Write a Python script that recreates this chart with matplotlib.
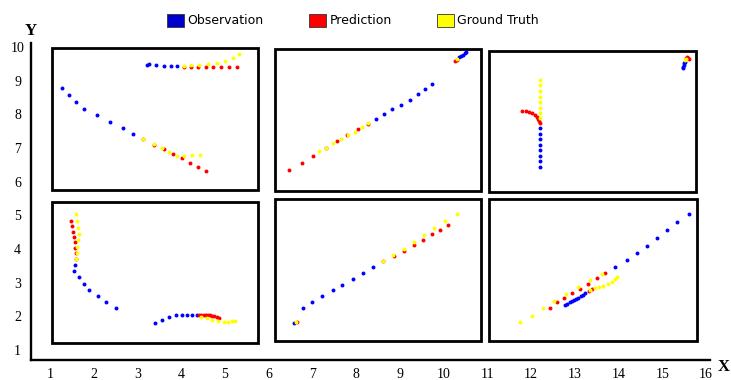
import matplotlib
matplotlib.use("Agg")
import matplotlib.pyplot as plt
from matplotlib.patches import Rectangle, Patch

# observation (blue)
obs_x = [3.21, 3.26, 3.43, 3.61, 3.77, 3.91,                      # panel 1 upper
         1.28, 1.43, 1.59, 1.78, 2.07, 2.38, 2.67, 2.90,          # panel 1 lower
         9.74, 9.57, 9.42, 9.23, 9.02, 8.83, 8.63, 8.45,          # panel 2
         10.36, 10.40, 10.44, 10.48, 10.51,
         12.20, 12.20, 12.20, 12.20, 12.20, 12.20, 12.20, 12.20,  # panel 3
         15.48, 15.48, 15.49, 15.50, 15.51,
         2.50, 2.28, 2.09, 1.90, 1.77, 1.66, 1.55, 1.58,          # panel 4
         3.39, 3.55, 3.72, 3.89, 4.01, 4.13, 4.24, 4.35,
         8.39, 8.15, 7.92, 7.68, 7.46, 7.23, 7.00, 6.78, 6.57,    # panel 5
         15.60, 15.34, 15.11, 14.87, 14.64, 14.42, 14.19, 13.91,  # panel 6
         13.24, 13.18, 13.13, 13.08, 13.03, 12.98, 12.93, 12.88, 12.83, 12.78]
obs_y = [9.47, 9.50, 9.47, 9.44, 9.43, 9.44,
         8.79, 8.58, 8.37, 8.16, 7.97, 7.77, 7.59, 7.43,
         8.90, 8.74, 8.59, 8.43, 8.29, 8.15, 8.00, 7.87,
         9.69, 9.73, 9.77, 9.81, 9.84,
         7.59, 7.43, 7.27, 7.10, 6.94, 6.77, 6.61, 6.44,
         9.37, 9.42, 9.47, 9.52, 9.56,
         2.26, 2.43, 2.60, 2.77, 2.96, 3.16, 3.34, 3.53,
         1.81, 1.89, 1.97, 2.04, 2.04, 2.04, 2.04, 2.03,
         3.45, 3.28, 3.11, 2.93, 2.77, 2.60, 2.42, 2.24, 1.80,
         5.04, 4.80, 4.56, 4.33, 4.08, 3.87, 3.66, 3.47,
         2.70, 2.64, 2.59, 2.54, 2.50, 2.47, 2.44, 2.41, 2.37, 2.33]

# prediction (red)
pred_x = [4.06, 4.23, 4.39, 4.56, 4.73, 4.90, 5.09, 5.28,
          3.13, 3.37, 3.60, 3.81, 4.01, 4.19, 4.38, 4.56,
          8.26, 8.04, 7.78, 7.56, 7.30, 7.02, 6.75, 6.47,
          10.27, 10.30,
          11.80, 11.88, 11.96, 12.03, 12.09, 12.13, 12.16, 12.19, 12.20,
          15.53, 15.56, 15.59, 15.60,
          1.59, 1.59, 1.57, 1.56, 1.55, 1.53, 1.51, 1.48,
          4.41, 4.46, 4.51, 4.56, 4.61, 4.66, 4.71, 4.76, 4.81, 4.86,
          8.62, 8.87, 9.10, 9.32, 9.53, 9.73, 9.92, 10.10, 6.65,
          13.69, 13.50, 13.31, 13.12, 12.94, 12.76, 12.60, 12.43, 13.39, 13.32]
pred_y = [9.42, 9.41, 9.41, 9.41, 9.41, 9.40, 9.40, 9.40,
          7.27, 7.10, 6.97, 6.82, 6.69, 6.55, 6.44, 6.32,
          7.72, 7.56, 7.39, 7.20, 6.99, 6.77, 6.56, 6.35,
          9.59, 9.62,
          8.10, 8.09, 8.06, 8.03, 7.98, 7.93, 7.87, 7.80, 7.73,
          9.68, 9.71, 9.68, 9.64,
          3.71, 3.88, 4.04, 4.20, 4.36, 4.51, 4.67, 4.82,
          2.05, 2.05, 2.05, 2.04, 2.04, 2.03, 2.02, 2.00, 1.98, 1.96,
          3.63, 3.79, 3.95, 4.13, 4.27, 4.43, 4.56, 4.70, 1.84,
          3.30, 3.13, 2.96, 2.82, 2.68, 2.54, 2.41, 2.26, 2.80, 2.76]

# ground truth (yellow)
gt_x = [4.06, 4.22, 4.41, 4.61, 4.81, 5.01, 5.19, 5.31,
        3.13, 3.38, 3.56, 3.73, 3.90, 4.07, 4.25, 4.44,
        8.26, 8.13, 7.97, 7.81, 7.65, 7.48, 7.30, 7.16,
        10.31,
        12.21, 12.21, 12.21, 12.21, 12.21, 12.21, 12.21, 12.21,
        15.52, 15.54,
        1.59, 1.62, 1.62, 1.64, 1.66, 1.63, 1.61, 1.59,
        4.45, 4.58, 4.71, 4.85, 4.98, 5.07, 5.16, 5.22,
        8.62, 8.85, 9.09, 9.32, 9.55, 9.78, 10.04, 10.30, 6.63,
        13.61, 13.35, 13.08, 12.80, 12.53, 12.27, 12.01, 11.75,
        13.35, 13.46, 13.56, 13.65, 13.75, 13.84, 13.91, 13.97]
gt_y = [9.45, 9.46, 9.47, 9.49, 9.52, 9.58, 9.67, 9.78,
        7.27, 7.11, 7.00, 6.87, 6.77, 6.75, 6.78, 6.78,
        7.73, 7.62, 7.48, 7.38, 7.26, 7.14, 7.00, 6.91,
        9.64,
        9.02, 8.86, 8.70, 8.53, 8.37, 8.20, 8.04, 7.88,
        9.60, 9.63,
        3.69, 3.88, 4.07, 4.26, 4.45, 4.63, 4.83, 5.04,
        1.99, 1.94, 1.90, 1.86, 1.84, 1.84, 1.85, 1.87,
        3.64, 3.81, 4.01, 4.22, 4.42, 4.62, 4.82, 5.03, 1.82,
        3.26, 3.08, 2.86, 2.65, 2.44, 2.24, 2.02, 1.82,
        2.78, 2.83, 2.86, 2.91, 2.95, 3.01, 3.10, 3.18]

x_ticks = list(range(1, 17))
y_ticks = list(range(1, 11))

# panel frames (x0, y0, x1, y1)
boxes = [(1.05, 5.75, 5.76, 9.97), (6.15, 5.72, 10.86, 9.94), (11.04, 5.69, 15.77, 9.88),
         (1.05, 1.21, 5.76, 5.40), (6.15, 1.27, 10.86, 5.49), (11.04, 1.27, 15.79, 5.49)]

fig = plt.figure(figsize=(7.31, 3.80), dpi=100)
ax = fig.add_axes([31 / 731, 20 / 380, 679 / 731, 317 / 380])
ax.set_xlim(0.565, 16.09)
ax.set_ylim(0.70, 10.12)

for x0, y0, x1, y1 in boxes:
    ax.add_patch(Rectangle((x0, y0), x1 - x0, y1 - y0, fill=False, edgecolor="black", linewidth=2, zorder=1))

ax.scatter(obs_x, obs_y, s=8, color="#0000ff", linewidths=0, zorder=3)
ax.scatter(pred_x, pred_y, s=8, color="#ff0000", linewidths=0, zorder=4)
ax.scatter(gt_x, gt_y, s=8, color="#ffff00", linewidths=0, zorder=5)

ax.spines["top"].set_visible(False)
ax.spines["right"].set_visible(False)
ax.spines["left"].set_linewidth(1.7)
ax.spines["bottom"].set_linewidth(1.7)

ax.set_xticks(x_ticks)
ax.set_yticks(y_ticks)
ax.set_xticklabels([str(t) for t in x_ticks], fontfamily="Liberation Serif", fontsize=10)
ax.set_yticklabels([str(t) for t in y_ticks], fontfamily="Liberation Serif", fontsize=10)
ax.tick_params(axis="x", length=0, pad=5.5)
ax.tick_params(axis="y", length=0, pad=9.7)
for lbl in ax.get_yticklabels():
    lbl.set_horizontalalignment("center")

fig.text(30.5 / 731, 1 - 31 / 380, "Y", fontfamily="Liberation Serif", fontweight="bold",
         fontsize=12, ha="center", va="center")
fig.text(724 / 731, 1 - 367 / 380, "X", fontfamily="Liberation Serif", fontweight="bold",
         fontsize=12, ha="center", va="center")

handles = [Patch(facecolor="#0000cc", edgecolor="#333333", linewidth=0.6, label="Observation"),
           Patch(facecolor="#ff0000", edgecolor="#333333", linewidth=0.6, label="Prediction"),
           Patch(facecolor="#ffff00", edgecolor="#333333", linewidth=0.6, label="Ground Truth")]
fig.legend(handles=handles, loc="center", bbox_to_anchor=(353 / 731, 1 - 20.5 / 380), ncol=3,
           frameon=False, fontsize=9, handlelength=1.35, handleheight=1.2, handletextpad=0.3,
           columnspacing=3.6, borderpad=0, borderaxespad=0)

fig.savefig("out.png", dpi=100)
